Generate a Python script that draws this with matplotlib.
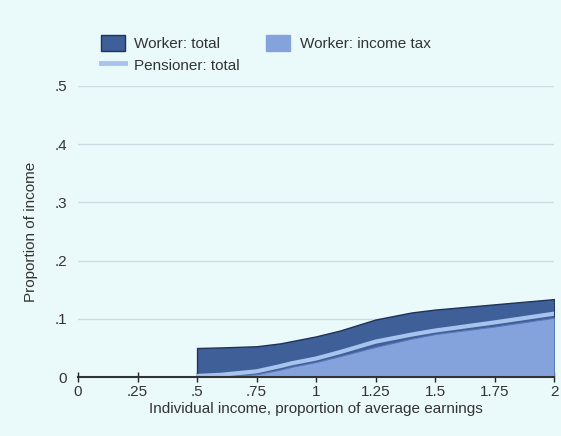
import numpy as np
import matplotlib.pyplot as plt
from matplotlib.patches import Patch
from matplotlib.lines import Line2D

# values
income = [0.5, 0.6, 0.75, 0.85, 0.9, 1.0, 1.1, 1.25, 1.4, 1.5, 1.75, 2.0]
worker_total = [0.050, 0.051, 0.053, 0.058, 0.062, 0.070, 0.080, 0.099, 0.111, 0.116, 0.125, 0.134]
worker_income_tax = [0.000, 0.001, 0.005, 0.013, 0.018, 0.026, 0.036, 0.052, 0.066, 0.074, 0.087, 0.102]
pensioner_total = [0.002, 0.004, 0.010, 0.019, 0.024, 0.032, 0.043, 0.061, 0.073, 0.080, 0.094, 0.109]

xticks = [0, 0.25, 0.5, 0.75, 1, 1.25, 1.5, 1.75, 2]
xtick_labels = ["0", ".25", ".5", ".75", "1", "1.25", "1.5", "1.75", "2"]
yticks = [0, 0.1, 0.2, 0.3, 0.4, 0.5]
ytick_labels = ["0", ".1", ".2", ".3", ".4", ".5"]

bg = "#eafafa"
dark = "#3f5f99"
mid = "#84a2dc"
light = "#a8c4ee"
grid_c = "#c9dde2"

plt.rcParams["font.family"] = ["Liberation Sans", "DejaVu Sans"]

fig = plt.figure(figsize=(5.61, 4.36), dpi=100, facecolor=bg)
ax = fig.add_axes([0.139, 0.135, 0.849, 0.668], facecolor=bg)

ax.fill_between(income, 0, worker_total, color=dark, edgecolor="#1f3258", linewidth=1.0, zorder=2)
ax.fill_between(income, 0, worker_income_tax, color=mid, edgecolor="#5a78b5", linewidth=0.8, zorder=3)
ax.plot(income, pensioner_total, color=light, linewidth=3, zorder=4, solid_capstyle="butt")

ax.set_xlim(0, 2)
ax.set_ylim(0, 0.5)
ax.set_xticks(xticks)
ax.set_xticklabels(xtick_labels)
ax.set_yticks(yticks)
ax.set_yticklabels(ytick_labels)

for y in yticks[1:]:
    ax.axhline(y, color=grid_c, linewidth=1, zorder=1)

for s in ["top", "right", "left"]:
    ax.spines[s].set_visible(False)
ax.spines["bottom"].set_color("#333333")
ax.spines["bottom"].set_linewidth(1.5)
ax.spines["bottom"].set_zorder(5)

ax.tick_params(axis="x", direction="inout", length=7, width=1, colors="#222222",
               labelsize=11, pad=2, labelcolor="#333333")
ax.tick_params(axis="y", length=0, labelsize=11, pad=8, labelcolor="#333333")

ax.set_xlabel("Individual income, proportion of average earnings", fontsize=11, color="#333333", labelpad=2)
ax.set_ylabel("Proportion of income", fontsize=11, color="#333333", labelpad=12)

# legend filled column-wise: put pensioner second so it lands under "Worker: total"
handles = [
    Patch(facecolor=dark, edgecolor="#1f3258", label="Worker: total"),
    Line2D([0], [0], color=light, linewidth=3.5, label="Pensioner: total"),
    Patch(facecolor=mid, edgecolor=mid, label="Worker: income tax"),
]
fig.legend(handles=handles, ncol=2, loc="upper left", bbox_to_anchor=(0.155, 0.952),
           frameon=False, fontsize=11, handlelength=1.6, handleheight=1.3,
           columnspacing=1.7, labelspacing=0.35, handletextpad=0.6, labelcolor="#333333")

fig.savefig("out.png", dpi=100, facecolor=bg)
